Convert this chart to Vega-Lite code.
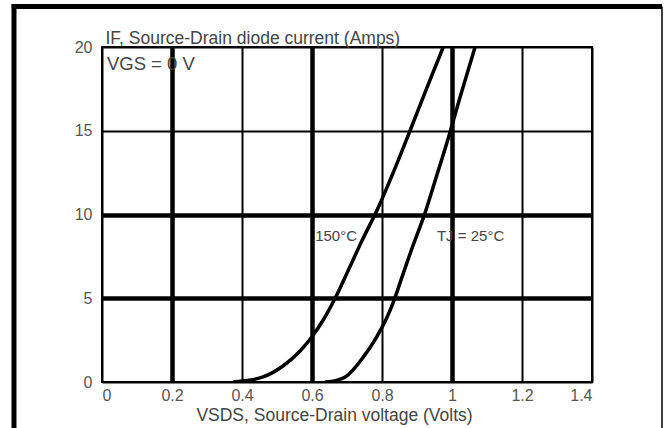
{
  "$schema": "https://vega.github.io/schema/vega-lite/v6.json",
  "autosize": "none",
  "width": 490,
  "height": 335,
  "padding": {"left": 102, "top": 47, "right": 72, "bottom": 46},
  "background": "white",
  "config": {
    "view": {"stroke": "black", "strokeWidth": 2},
    "font": "Liberation Sans",
    "axis": {
      "ticks": false,
      "domain": false,
      "gridColor": "black",
      "gridOpacity": 1,
      "labelFont": "Liberation Sans",
      "labelFontSize": 16,
      "labelColor": "#555555",
      "titleFont": "Liberation Sans",
      "titleFontSize": 17.5,
      "titleFontWeight": "normal",
      "titleColor": "#444444"
    }
  },
  "datasets": {
    "curves": [
      {"v": 0.375, "i": 0.0, "s": "150"},
      {"v": 0.42, "i": 0.1, "s": "150"},
      {"v": 0.46, "i": 0.3, "s": "150"},
      {"v": 0.52, "i": 1.0, "s": "150"},
      {"v": 0.566, "i": 1.85, "s": "150"},
      {"v": 0.6, "i": 2.7, "s": "150"},
      {"v": 0.632, "i": 3.7, "s": "150"},
      {"v": 0.666, "i": 5.0, "s": "150"},
      {"v": 0.7, "i": 6.5, "s": "150"},
      {"v": 0.742, "i": 8.4, "s": "150"},
      {"v": 0.789, "i": 10.4, "s": "150"},
      {"v": 0.832, "i": 12.5, "s": "150"},
      {"v": 0.88, "i": 15.0, "s": "150"},
      {"v": 0.927, "i": 17.5, "s": "150"},
      {"v": 0.975, "i": 20.0, "s": "150"},
      {"v": 0.637, "i": 0.0, "s": "25"},
      {"v": 0.67, "i": 0.1, "s": "25"},
      {"v": 0.695, "i": 0.3, "s": "25"},
      {"v": 0.747, "i": 1.5, "s": "25"},
      {"v": 0.785, "i": 2.7, "s": "25"},
      {"v": 0.813, "i": 3.8, "s": "25"},
      {"v": 0.833, "i": 4.8, "s": "25"},
      {"v": 0.861, "i": 6.5, "s": "25"},
      {"v": 0.886, "i": 8.0, "s": "25"},
      {"v": 0.923, "i": 10.1, "s": "25"},
      {"v": 0.956, "i": 12.3, "s": "25"},
      {"v": 0.99, "i": 14.6, "s": "25"},
      {"v": 1.023, "i": 17.0, "s": "25"},
      {"v": 1.066, "i": 20.0, "s": "25"}
    ],
    "notes": [
      {"v": 0.014, "i": 19.0, "label": "VGS = 0 V", "size": "big"},
      {"v": 0.609, "i": 8.7, "label": "150°C", "size": "small"},
      {"v": 0.957, "i": 8.7, "label": "TJ = 25°C", "size": "small"}
    ],
    "one": [{"k": 1}]
  },
  "layer": [
    {
      "data": {"name": "curves"},
      "mark": {"type": "line", "color": "black", "strokeWidth": 3.5, "interpolate": "monotone", "clip": true},
      "encoding": {
        "x": {
          "field": "v", "type": "quantitative",
          "scale": {"domain": [0, 1.4], "nice": false, "zero": false},
          "axis": {
            "values": [0, 0.2, 0.4, 0.6, 0.8, 1, 1.2, 1.4],
            "format": "~g",
            "labelPadding": 5,
            "title": "VSDS, Source-Drain voltage (Volts)",
            "titleX": 232,
            "titleY": 38,
            "titleBaseline": "alphabetic",
            "gridWidth": {"condition": {"test": "datum.value == 0.2 || datum.value == 0.6 || datum.value == 1", "value": 4.5}, "value": 2}
          }
        },
        "y": {
          "field": "i", "type": "quantitative",
          "scale": {"domain": [0, 20], "nice": false},
          "axis": {
            "values": [0, 5, 10, 15, 20],
            "labelPadding": 10,
            "title": "IF, Source-Drain diode current (Amps)",
            "titleAngle": 0,
            "titleAlign": "left",
            "titleBaseline": "alphabetic",
            "titleX": 3,
            "titleY": -4,
            "gridWidth": {"condition": {"test": "datum.value == 5 || datum.value == 10", "value": 4.5}, "value": 2}
          }
        },
        "detail": {"field": "s", "type": "nominal"}
      }
    },
    {
      "data": {"name": "notes"},
      "mark": {"type": "text", "align": "left", "baseline": "middle", "color": "#444444", "font": "Liberation Sans"},
      "encoding": {
        "x": {"field": "v", "type": "quantitative"},
        "y": {"field": "i", "type": "quantitative"},
        "text": {"field": "label", "type": "nominal"},
        "size": {"field": "size", "type": "nominal", "scale": {"domain": ["big", "small"], "range": [18.5, 15]}, "legend": null}
      }
    },
    {
      "data": {"name": "one"},
      "mark": {"type": "rule", "color": "black", "strokeWidth": 5, "clip": false},
      "encoding": {
        "x": {"datum": -0.2514},
        "y": {"datum": 22.57},
        "y2": {"datum": -2.9}
      }
    },
    {
      "data": {"name": "one"},
      "mark": {"type": "rule", "color": "black", "strokeWidth": 5, "clip": false},
      "encoding": {
        "x": {"datum": -0.258},
        "x2": {"datum": 1.6},
        "y": {"datum": 22.42}
      }
    },
    {
      "data": {"name": "one"},
      "mark": {"type": "rule", "color": "black", "strokeWidth": 1.5, "clip": false},
      "encoding": {
        "x": {"datum": 1.6},
        "y": {"datum": 22.42},
        "y2": {"datum": -2.9}
      }
    }
  ]
}
